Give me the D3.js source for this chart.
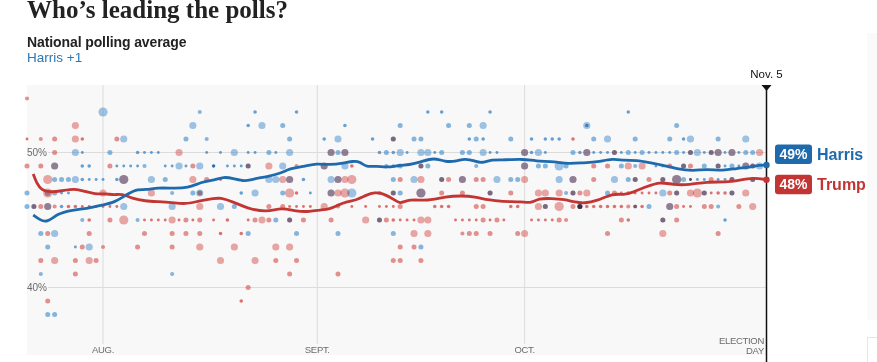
<!DOCTYPE html>
<html>
  <head>
    <meta charset="UTF-8">
    <title>Who's leading the polls?</title>
    <style>
      body { margin: 0; background: #fff; }
      svg { display: block; }
    </style>
  </head>
  <body>
    <svg></svg>

    <script src="https://d3js.org/d3.v7.min.js"></script>
    <script>

/* DATA */
// days are counted from July 21, 2024 (left edge of the chart)
var startDate = new Date(2024, 6, 21);

var harrisAvg = [
  [0.9,45.37],[1.9,45.0],[2.9,44.8],[4.5,45.5],[6.5,45.74],[8.9,45.87],[10.8,46.1],
  [12.7,46.3],[14.7,46.98],[16.1,47.3],[17.1,47.22],[19.0,47.4],[20.9,47.35],[23.3,47.35],
  [25.3,47.84],[27.2,47.96],[28.4,48.2],[29.8,48.09],[31.5,47.84],[32.7,48.04],[34.7,48.2],
  [36.8,48.46],[38.0,48.83],[40.0,48.95],[41.9,49.2],[43.8,49.07],[45.8,49.2],[47.2,49.37],
  [48.2,49.32],[49.1,48.9],[50.6,49.02],[52.0,48.87],[54.0,49.07],[55.2,49.07],[57.1,49.32],
  [58.8,49.62],[60.5,49.32],[61.9,49.32],[63.4,49.57],[64.8,49.37],[65.8,49.2],[67.2,49.49],
  [69.1,49.44],[71.8,49.52],[73.5,49.37],[76.4,49.32],[78.3,49.15],[80.7,49.25],[82.4,49.27],
  [84.8,49.57],[86.3,49.39],[88.2,49.44],[90.1,49.25],[92.0,49.07],[94.0,48.78],[96.4,48.63],
  [98.3,48.78],[100.7,48.65],[102.7,48.83],[104.6,48.9],[106.0,49.07],[107,49.07]
];

var trumpAvg = [
  [0.9,48.41],[1.4,47.72],[2.1,47.22],[3.3,47.05],[5.0,47.15],[6.9,47.35],[8.4,47.1],
  [9.8,46.93],[11.3,46.95],[12.7,46.85],[13.7,46.95],[15.2,46.6],[17.1,46.4],[19.0,46.36],
  [20.9,46.31],[22.9,46.16],[24.8,46.4],[27.2,46.6],[27.9,46.65],[29.8,46.36],[31.8,45.87],
  [34.7,45.56],[36.8,45.94],[39.0,45.62],[40.9,45.62],[42.4,45.74],[43.8,45.81],[45.0,46.11],
  [46.3,46.36],[47.7,46.48],[49.1,46.85],[50.3,47.05],[51.5,46.98],[53.0,46.56],[54.0,46.16],
  [55.2,46.56],[58.1,46.4],[60.5,46.73],[62.9,46.8],[64.8,46.73],[66.7,46.48],[68.7,46.36],
  [71.6,46.36],[73.0,46.24],[74.0,46.6],[75.9,46.6],[77.8,46.53],[79.3,46.31],[80.7,46.24],
  [82.4,46.4],[84.8,46.98],[86.3,46.85],[87.7,47.05],[89.6,47.47],[91.6,47.84],[93.5,47.6],
  [95.9,47.6],[98.3,47.84],[101.2,47.79],[103.1,47.96],[105.1,48.14],[107,47.99]
];

// individual polls: [day, percent, weight]
var harrisPolls = [
  [11,53,10],[25,53,2],[24,52,6],[14,51,6],[23,51,3],[26,51,2],
  [7,50,6],[8,50,1],[12,50,3],[16,50,1.5],[17,50,1],[18,50,1],[19,50,1],[26,50,1],
  [4,49,6],[8,49,1.5],[9,49,1.5],[13,49,1],[14,49,1],[15,49,1],[16,49,1],[17,49,2],[20,49,1],
  [21,49,1],[22,49,6],[23,49,1],[25,49,6],[27,49,1.5],
  [4,48,3],[5,48,3],[6,48,3],[7,48,6],[8,48,1.5],[9,48,1],[10,48,1],[11,48,1],[13,48,1.5],
  [14,48,10],[18,48,6],[20,48,3],
  [0,47,3],[3,47,4],[4,47,3],[5,47,1],[6,47,1],[21,47,2],[24,47,3],[25,47,6],
  [0,46,3],[1,46,3],[3,46,6],[5,46,1.5],[14,46,6],[21,46,6],
  [8,45,2],[16,45,2],[2,44,3],[4,44,6],[3,43,3],[7,43,1],[9,43,6],[2,41,2],[21,41,2],[3,38,3],[4,38,3],
  [33,53,1.5],[39,53,1.5],[32,52,1.5],[34,52,6],[37,52,3],[46,52,1.5],
  [38,51,3],[43,51,1.5],[45,51,6],[50,51,1.5],[53,51,3],
  [28,50,1],[30,50,6],[32,50,1],[33,50,1],[35,50,3],[36,50,1],[38,50,6],[44,50,6],[45,50,3],
  [46,50,6],[51,50,1.5],[52,50,3],[53,50,1.5],
  [27,49,1],[29,49,1],[30,49,1],[31,49,1],[32,49,3],[37,49,6],[43,49,6],[46,49,6],[52,49,2],[53,49,1.5],
  [35,48,6],[36,48,6],[38,48,6],[40,48,1.5],[44,48,6],[45,48,6],[53,48,3],
  [31,47,1.5],[33,47,6],[37,47,3],[41,47,1],[44,47,6],[47,47,10],[51,47,2],[53,47,3],
  [28,46,6],[30,46,3],[36,45,3],[38,45,3],[51,45,3],[32,44,3],[39,44,3],[45,44,3],[53,44,3],
  [58,53,1.5],[60,53,1.5],[67,53,1.5],[54,52,3],[61,52,3],[64,52,3],[66,52,6],[81,52,1.5],
  [56,51,3],[57,51,3],[64,51,1.5],[65,51,3],[66,51,1.5],[70,51,3],[73,51,1.5],[75,51,1.5],
  [76,51,1.5],[77,51,1.5],
  [54,50,6],[55,50,1],[57,50,6],[58,50,6],[59,50,1],[60,50,3],[63,50,3],[64,50,3],[66,50,6],
  [67,50,1],[68,50,1],[72,50,6],[73,50,1.5],[74,50,6],[75,50,1],[79,50,3],
  [54,49,3],[57,49,3],[58,49,3],[65,49,2],[72,49,6],[74,49,3],[75,49,3],[77,49,10],[78,49,3],
  [56,48,6],[60,48,3],[63,48,6],[68,48,6],[70,48,3],[71,48,3],[77,48,6],[79,48,6],
  [54,47,3],[57,47,10],[67,47,3],[78,47,2],[79,47,3],[75,46,3],[80,46,3],[57,43,3],
  [87,53,1.5],[81,52,6],[94,52,3],
  [82,51,3],[84,51,6],[88,51,3],[93,51,3],[95,51,1.5],[96,51,6],[100,51,3],[104,51,6],
  [80,50,1.5],[81,50,6],[82,50,1],[83,50,1],[84,50,1],[85,50,3],[86,50,1],[87,50,3],[88,50,1],
  [89,50,3],[90,50,1],[91,50,1],[92,50,1],[93,50,1],[94,50,3],[95,50,1],[96,50,3],[97,50,6],
  [98,50,1],[99,50,3],[100,50,6],[101,50,1],[102,50,6],[103,50,1],[104,50,3],[105,50,3],
  [86,49,3],[88,49,2],[91,49,1],[92,49,1],[95,49,3],[98,49,3],[100,49,3],[101,49,1],[102,49,3],
  [103,49,1],[104,49,6],[105,49,3],[106,49,6],[107,49,3],
  [85,48,6],[87,48,3],[88,48,3],[92,48,3],[94,48,10],[95,48,3],[96,48,1],[97,48,1],[98,48,1],
  [100,48,1],[101,48,1],[102,48,3],[105,48,3],
  [84,47,3],[92,47,6],[94,47,3],[98,47,3],[102,47,3],
  [80,46,3],[88,46,2],[90,46,3],[93,46,6],[100,46,2],[92,45,3],[101,45,1.5]
];

var trumpPolls = [
  [0,54,2],[7,52,6],
  [0,51,1],[2,51,2],[4,51,3],[7,51,6],[8,51,1.5],[13,51,3],[4,50,3],[22,50,6],
  [0,49,3],[2,49,3],[4,49,6],[12,49,3],[24,49,3],
  [3,48,10],[24,48,6],[26,48,3],[14,48,10],
  [3,47,10],[11,47,6],[18,47,6],[25,47,3],
  [1,46,3],[2,46,3],[3,46,6],[4,46,2],[6,46,1.5],[7,46,1.5],[8,46,1],[9,46,1],[10,46,1],
  [11,46,1],[12,46,1],[13,46,1],[25,46,6],
  [9,45,1.5],[12,45,3],[14,45,10],[17,45,1],[18,45,1],[19,45,1],[20,45,1],[21,45,6],[22,45,1],
  [23,45,3],[24,45,1],[25,45,3],[27,45,1],
  [3,44,3],[9,44,3],[17,44,3],[21,44,3],[23,44,3],[25,44,3],
  [8,43,3],[11,43,2],[16,43,3],[21,43,3],[25,43,6],
  [2,42,3],[4,42,6],[7,42,3],[9,42,6],[10,42,3],[7,41,3],[3,39,3],
  [53,51,3],[44,50,6],[46,50,6],
  [32,49,3],[35,49,6],[39,49,2],[43,49,6],[47,49,1.5],
  [28,48,1],[37,48,6],[38,48,6],[45,48,6],[46,48,6],[47,48,10],
  [38,47,10],[39,47,1.5],[44,47,6],[45,47,6],[46,47,10],[53,47,3],
  [35,46,3],[37,46,3],[38,46,1],[39,46,1],[40,46,1],[41,46,1],[43,46,6],[45,46,2],[47,46,1],
  [49,46,1],[51,46,1],[52,46,1],[53,46,1],
  [29,45,1.5],[32,45,1],[33,45,3],[34,45,6],[35,45,3],[38,45,3],[40,45,3],[44,45,3],[49,45,6],
  [51,45,3],[52,45,3],[53,45,1.5],
  [28,44,1.5],[31,44,1.5],[30,43,6],[36,43,6],[38,43,6],
  [28,42,6],[33,42,6],[36,42,3],[39,42,3],[53,42,3],[38,41,3],[45,41,3],[32,40,3],[31,39,1.5],
  [79,51,1.5],[72,50,6],[57,49,3],[72,49,6],
  [54,48,3],[57,48,6],[60,48,3],[61,48,3],[63,48,6],[65,48,3],[66,48,3],[72,48,6],[79,48,6],
  [57,47,10],[60,47,3],[63,47,3],[67,47,3],[70,47,3],[74,47,6],[75,47,6],[77,47,6],[79,47,3],
  [54,46,3],[59,46,1.5],[60,46,1.5],[61,46,1.5],[65,46,3],[66,46,3],[70,46,1.5],[71,46,1.5],
  [74,46,6],[75,46,3],[77,46,10],[79,46,3],[80,46,3],
  [54,45,1],[55,45,1],[56,45,1],[57,45,6],[58,45,6],[62,45,1],[63,45,1],[64,45,1],[65,45,1],
  [66,45,3],[67,45,1],[68,45,3],[69,45,1],[73,45,1],[74,45,1],[75,45,1],[76,45,1],[77,45,3],[78,45,2],
  [56,44,6],[58,44,6],[63,44,2],[64,44,3],[65,44,3],[67,44,3],[71,44,3],[72,44,6],
  [54,43,3],[56,43,3],[54,42,3],[57,42,3],
  [81,50,6],[85,50,3],[96,50,3],[99,50,3],[100,50,6],[102,50,6],[106,50,6],
  [82,49,3],[84,49,3],[87,49,6],[89,49,6],[93,49,3],[95,49,3],[96,49,3],[100,49,3],[104,49,6],[105,49,3],
  [82,48,3],[88,48,3],[90,48,3],[92,48,3],[94,48,10],[96,48,1],[99,48,3],[102,48,3],[105,48,3],
  [80,47,3],[81,47,6],[85,47,3],[86,47,1],[87,47,1.5],[88,47,1],[89,47,1],[90,47,1],[91,47,1],
  [93,47,3],[94,47,3],[96,47,6],[97,47,10],[98,47,3],[99,47,1],[100,47,1.5],[101,47,1.5],
  [102,47,3],[104,47,6],
  [80,46,3],[81,46,1.5],[82,46,1.5],[83,46,1.5],[84,46,1.5],[85,46,1.5],[86,46,1.5],[87,46,2],
  [88,46,1.5],[89,46,1.5],[93,46,6],[94,46,3],[95,46,1],[96,46,1],[98,46,3],[99,46,3],[103,46,3],[105,46,6],
  [86,45,3],[87,45,1.5],[92,45,3],[94,45,3],[84,44,3],[92,44,6],[100,44,3]
];

var monthTicks = [new Date(2024,7,1), new Date(2024,8,1), new Date(2024,9,1)];
var monthLabels = ["AUG.", "SEPT.", "OCT."];
var pctTicks = [40, 50];

var candidates = [
  {name: "Harris", value: "49%", color: "#1f6aad", dot: "#3f8acb", avg: harrisAvg, polls: harrisPolls},
  {name: "Trump", value: "48%", color: "#c23533", dot: "#d4504e", avg: trumpAvg, polls: trumpPolls}
];

/* SETUP */
var width = 877, height = 362;
var svg = d3.select("svg").attr("width", width).attr("height", height);

function dayToDate(d){
  return new Date(startDate.getTime() + d * 864e5);
}

var x = d3.scaleTime()
  .domain([startDate, new Date(2024, 10, 5)])
  .range([27, 766.5]);

var y = d3.scaleLinear()
  .domain([35, 55])
  .range([355, 85]);

var r = d3.scaleSqrt().domain([0, 10]).range([0, 4.6]);

/* TITLES */
svg.append("text")
  .attr("x", 27).attr("y", 18)
  .style("font-family", "'Liberation Serif', 'DejaVu Serif', serif")
  .style("font-weight", "bold")
  .style("font-size", "25px")
  .style("fill", "#222")
  .text("Who’s leading the polls?");

svg.append("text")
  .attr("x", 27).attr("y", 46.5)
  .style("font-family", "'Liberation Sans', Arial, sans-serif")
  .style("font-weight", "bold")
  .style("font-size", "14px")
  .style("letter-spacing", "-0.1px")
  .style("fill", "#222")
  .text("National polling average");

svg.append("text")
  .attr("x", 27).attr("y", 61.5)
  .style("font-family", "'Liberation Sans', Arial, sans-serif")
  .style("font-size", "13.5px")
  .style("fill", "#2a78b6")
  .text("Harris +1");

/* PLOT AREA */
svg.append("rect")
  .attr("x", x.range()[0]).attr("y", y(55))
  .attr("width", x.range()[1] - x.range()[0])
  .attr("height", y(35) - y(55))
  .attr("fill", "#f8f8f8");

// faint panels on the far right
svg.append("rect").attr("x", 867).attr("y", 33).attr("width", 12).attr("height", 287).attr("fill", "#fafafa");
svg.append("rect").attr("x", 867.5).attr("y", 337.5).attr("width", 12).attr("height", 30)
  .attr("fill", "#fff").attr("stroke", "#e6e6e6");

// month gridlines
svg.selectAll(".month-line")
  .data(monthTicks)
  .enter().append("line")
    .attr("x1", function(d){ return x(d); })
    .attr("x2", function(d){ return x(d); })
    .attr("y1", y(55)).attr("y2", 344)
    .attr("stroke", "#dcdcdc").attr("stroke-width", 1);

svg.selectAll(".month-label")
  .data(monthTicks)
  .enter().append("text")
    .attr("x", function(d){ return x(d); })
    .attr("y", 353)
    .attr("text-anchor", "middle")
    .style("font-family", "'Liberation Sans', Arial, sans-serif")
    .style("font-size", "9.5px")
    .style("letter-spacing", "-0.3px")
    .style("fill", "#6b6b6b")
    .text(function(d, i){ return monthLabels[i]; });

// percent gridlines
svg.selectAll(".pct-line")
  .data(pctTicks)
  .enter().append("line")
    .attr("x1", 48).attr("x2", x.range()[1])
    .attr("y1", function(d){ return y(d); })
    .attr("y2", function(d){ return y(d); })
    .attr("stroke", "#dcdcdc").attr("stroke-width", 1);

svg.selectAll(".pct-label")
  .data(pctTicks)
  .enter().append("text")
    .attr("x", 27)
    .attr("y", function(d){ return y(d) + 3.5; })
    .style("font-family", "'Liberation Sans', Arial, sans-serif")
    .style("font-size", "10px")
    .style("fill", "#6b6b6b")
    .text(function(d){ return d + "%"; });

/* POLL DOTS */
var dots = [];
candidates.forEach(function(c){
  c.polls.forEach(function(p){
    dots.push({day: p[0], pct: p[1], w: p[2], color: c.dot});
  });
});
dots.sort(function(a, b){ return b.w - a.w; });

svg.append("g")
  .style("isolation", "isolate")
  .selectAll("circle")
  .data(dots)
  .enter().append("circle")
    .attr("cx", function(d){ return x(dayToDate(d.day)); })
    .attr("cy", function(d){ return y(d.pct); })
    .attr("r", function(d){ return r(d.w); })
    .attr("fill", function(d){ return d.color; })
    .attr("fill-opacity", function(d){ return d.w <= 1.5 ? 0.8 : (d.w <= 3 ? 0.62 : 0.5); })
    .style("mix-blend-mode", "multiply");

/* AVERAGE LINES */
var line = d3.line()
  .x(function(d){ return x(dayToDate(d[0])); })
  .y(function(d){ return y(d[1]); })
  .curve(d3.curveBasis);

candidates.slice().reverse().forEach(function(c){
  svg.append("path")
    .datum(c.avg)
    .attr("d", line)
    .attr("fill", "none")
    .attr("stroke", c.color)
    .attr("stroke-width", 2.8)
    .attr("stroke-linejoin", "round");
});

/* ELECTION DAY MARKER */
var xe = x.range()[1];
svg.append("line")
  .attr("x1", xe).attr("x2", xe)
  .attr("y1", y(55)).attr("y2", height)
  .attr("stroke", "#111").attr("stroke-width", 1.5);

svg.append("path")
  .attr("d", "M" + (xe - 5) + "," + y(55) + "L" + (xe + 5) + "," + y(55) + "L" + xe + "," + (y(55) + 6) + "Z")
  .attr("fill", "#111");

svg.append("text")
  .attr("x", xe).attr("y", 78)
  .attr("text-anchor", "middle")
  .style("font-family", "'Liberation Sans', Arial, sans-serif")
  .style("font-size", "11.5px")
  .style("fill", "#111")
  .text("Nov. 5");

svg.append("text")
  .attr("x", xe - 2.5).attr("y", 343.5)
  .attr("text-anchor", "end")
  .style("font-family", "'Liberation Sans', Arial, sans-serif")
  .style("font-size", "9.5px")
  .style("letter-spacing", "-0.3px")
  .style("fill", "#6b6b6b")
  .text("ELECTION");

svg.append("text")
  .attr("x", xe - 2.5).attr("y", 353.5)
  .attr("text-anchor", "end")
  .style("font-family", "'Liberation Sans', Arial, sans-serif")
  .style("font-size", "9.5px")
  .style("letter-spacing", "-0.3px")
  .style("fill", "#6b6b6b")
  .text("DAY");

/* END LABELS */
var labelOffsets = [-11, 4.5];
candidates.forEach(function(c, i){
  var last = c.avg[c.avg.length - 1];
  var ly = y(last[1]);
  svg.append("circle")
    .attr("cx", xe).attr("cy", ly).attr("r", 3.2)
    .attr("fill", c.color);

  var cy = ly + labelOffsets[i];
  svg.append("rect")
    .attr("x", 775).attr("y", cy - 9.5)
    .attr("width", 37).attr("height", 19.5)
    .attr("rx", 3)
    .attr("fill", c.color);
  svg.append("text")
    .attr("x", 793.5).attr("y", cy + 5)
    .attr("text-anchor", "middle")
    .style("font-family", "'Liberation Sans', Arial, sans-serif")
    .style("font-weight", "bold")
    .style("font-size", "14px")
    .style("fill", "#fff")
    .text(c.value);
  svg.append("text")
    .attr("x", 817).attr("y", cy + 5.8)
    .style("font-family", "'Liberation Sans', Arial, sans-serif")
    .style("font-weight", "bold")
    .style("font-size", "16px")
    .style("fill", c.color)
    .text(c.name);
});

    </script>
  </body>
</html>
